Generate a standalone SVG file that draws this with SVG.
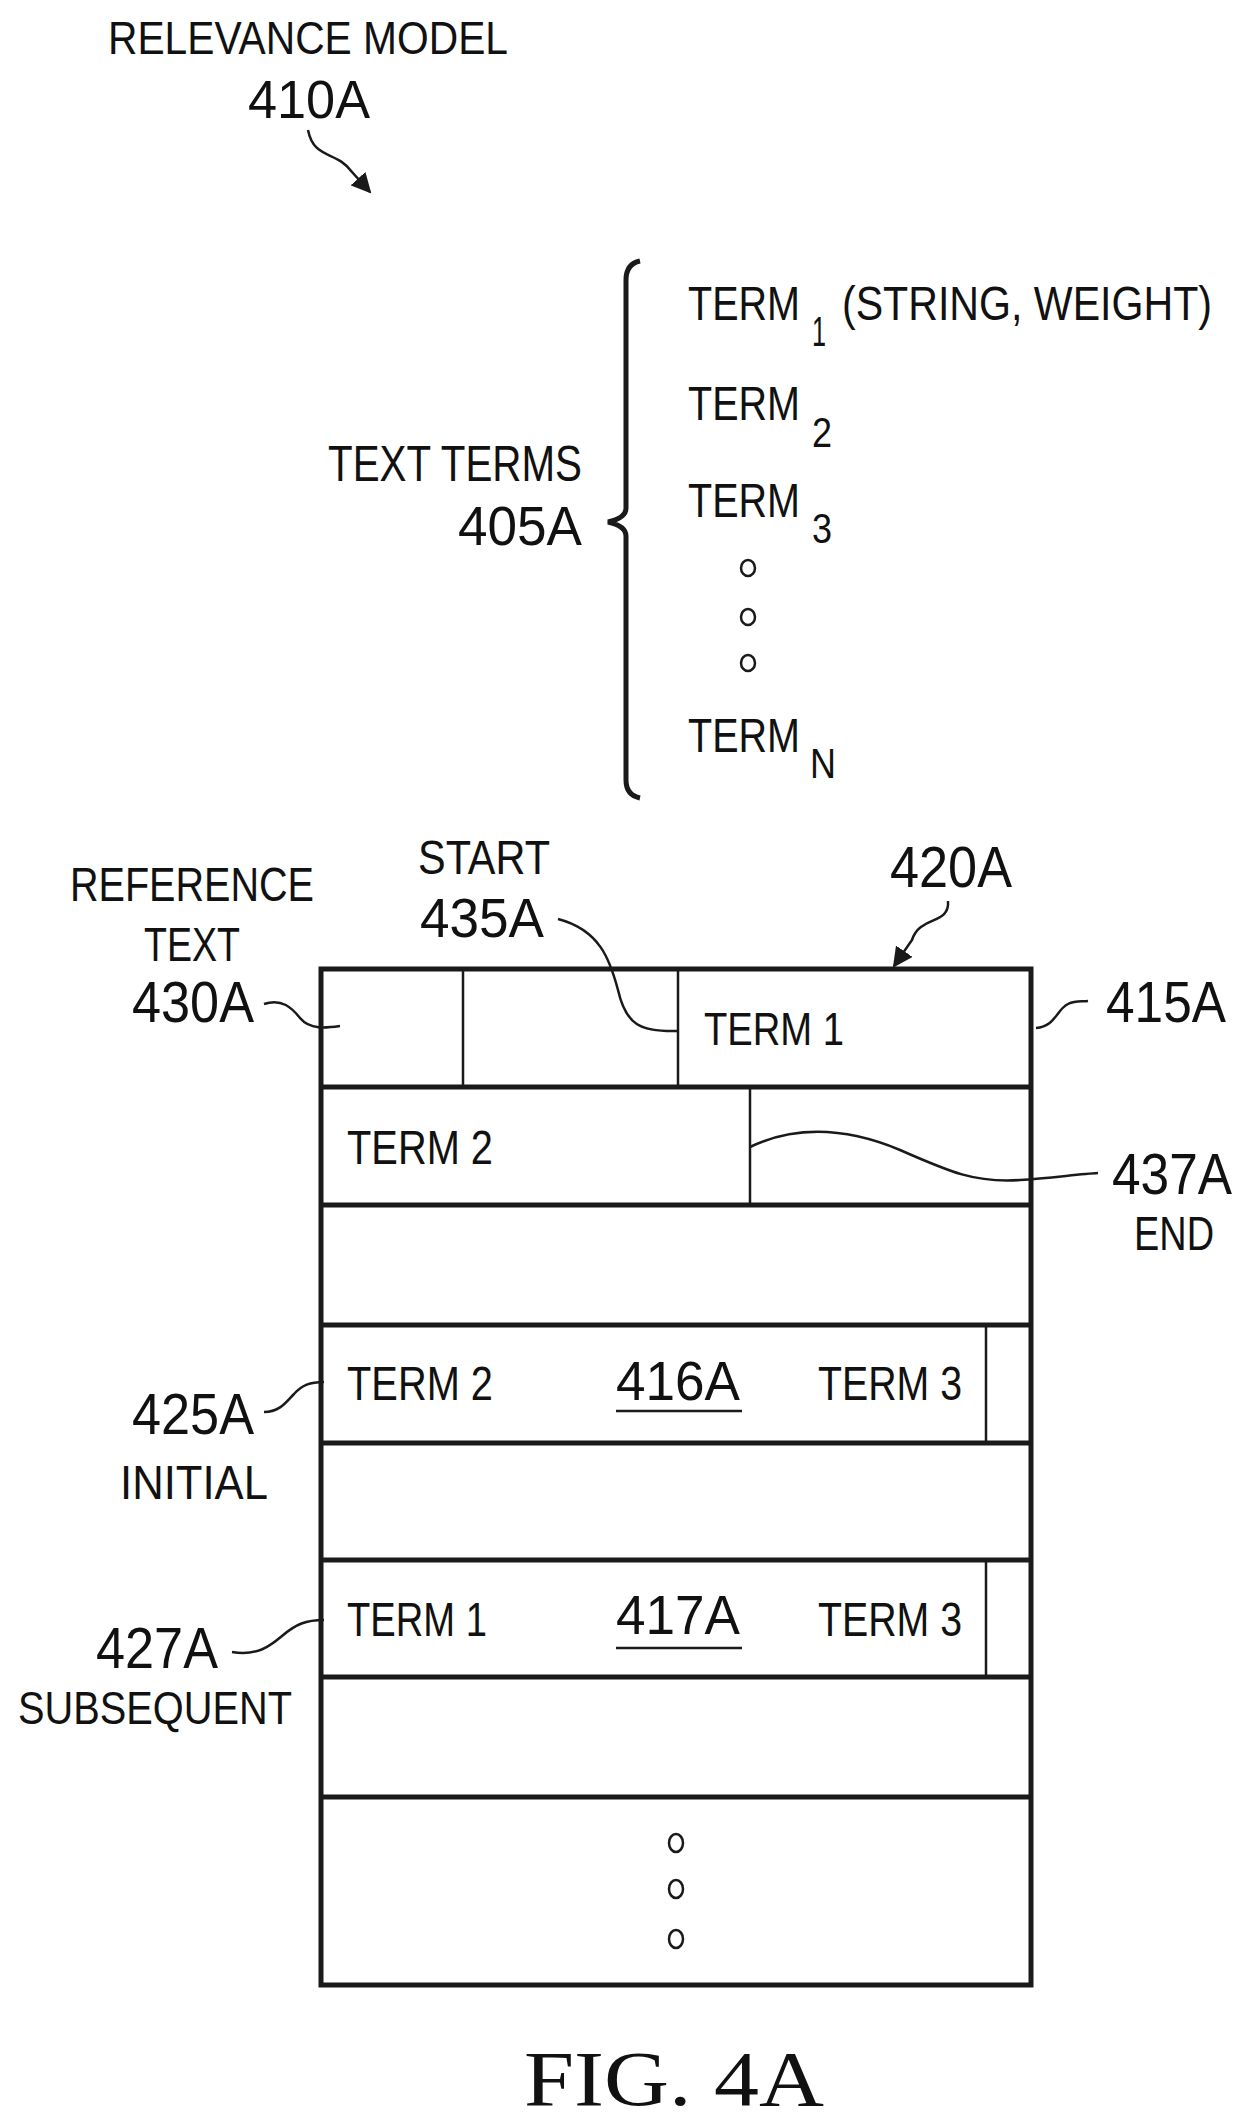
<svg xmlns="http://www.w3.org/2000/svg" width="1251" height="2124" viewBox="0 0 1251 2124">
<style>
text{font-family:"Liberation Sans",Arial,sans-serif;fill:#111}
.fig{font-family:"Liberation Serif","Times New Roman",serif}
.ln{fill:none;stroke:#1a1a1a;stroke-width:5}
.th{fill:none;stroke:#1a1a1a;stroke-width:2.5}
.dot{fill:none;stroke:#1a1a1a;stroke-width:2.5}
</style>
<defs>
<marker id="ah" viewBox="0 0 10 10" refX="9" refY="5" markerWidth="8" markerHeight="8" orient="auto"><path d="M0,0 L10,5 L0,10 z" fill="#1a1a1a"/></marker>
</defs>
<rect width="1251" height="2124" fill="#fff"/>

<g id="relevance-model">
<text x="108" y="54" font-size="46" textLength="400" lengthAdjust="spacingAndGlyphs">RELEVANCE MODEL</text>
<text x="248" y="118" font-size="54" textLength="122" lengthAdjust="spacingAndGlyphs">410A</text>
</g>

<g id="text-terms">
<text x="328" y="481" font-size="50" textLength="254" lengthAdjust="spacingAndGlyphs">TEXT TERMS</text>
<text x="458" y="545" font-size="56" textLength="124" lengthAdjust="spacingAndGlyphs">405A</text>
<path class="ln" d="M640,261 Q626,264 626,280 L626,508 Q626,518 608,522 Q626,526 626,536 L626,780 Q626,795 640,798"/>
<text x="688" y="320" font-size="48" textLength="112" lengthAdjust="spacingAndGlyphs">TERM</text>
<text x="812" y="346" font-size="42" textLength="14" lengthAdjust="spacingAndGlyphs">1</text>
<text x="842" y="320" font-size="48" textLength="370" lengthAdjust="spacingAndGlyphs">(STRING, WEIGHT)</text>
<text x="688" y="420" font-size="48" textLength="112" lengthAdjust="spacingAndGlyphs">TERM</text>
<text x="812" y="447" font-size="42" textLength="20" lengthAdjust="spacingAndGlyphs">2</text>
<text x="688" y="517" font-size="48" textLength="112" lengthAdjust="spacingAndGlyphs">TERM</text>
<text x="812" y="543" font-size="42" textLength="20" lengthAdjust="spacingAndGlyphs">3</text>
<ellipse class="dot" cx="748" cy="568" rx="7" ry="8"/>
<ellipse class="dot" cx="748" cy="617" rx="7" ry="8"/>
<ellipse class="dot" cx="748" cy="663" rx="7" ry="8"/>
<text x="688" y="752" font-size="48" textLength="112" lengthAdjust="spacingAndGlyphs">TERM</text>
<text x="810" y="778" font-size="42" textLength="26" lengthAdjust="spacingAndGlyphs">N</text>
</g>

<g id="table-415A">
<rect class="ln" x="321" y="969" width="710" height="1016"/>
<line class="ln" x1="321" y1="1087" x2="1031" y2="1087"/>
<line class="ln" x1="321" y1="1205" x2="1031" y2="1205"/>
<line class="ln" x1="321" y1="1325" x2="1031" y2="1325"/>
<line class="ln" x1="321" y1="1443" x2="1031" y2="1443"/>
<line class="ln" x1="321" y1="1560" x2="1031" y2="1560"/>
<line class="ln" x1="321" y1="1677" x2="1031" y2="1677"/>
<line class="ln" x1="321" y1="1797" x2="1031" y2="1797"/>
<line class="th" x1="463" y1="969" x2="463" y2="1087"/>
<line class="th" x1="678" y1="969" x2="678" y2="1087"/>
<line class="th" x1="750" y1="1087" x2="750" y2="1205"/>
<line class="th" x1="986" y1="1325" x2="986" y2="1443"/>
<line class="th" x1="986" y1="1560" x2="986" y2="1677"/>
<text x="704" y="1045" font-size="46" textLength="140" lengthAdjust="spacingAndGlyphs">TERM 1</text>
<text x="347" y="1164" font-size="48" textLength="146" lengthAdjust="spacingAndGlyphs">TERM 2</text>
<text x="347" y="1400" font-size="48" textLength="146" lengthAdjust="spacingAndGlyphs">TERM 2</text>
<text x="616" y="1400" font-size="56" textLength="124" lengthAdjust="spacingAndGlyphs">416A</text>
<line class="th" x1="616" y1="1411" x2="742" y2="1411"/>
<text x="818" y="1400" font-size="48" textLength="144" lengthAdjust="spacingAndGlyphs">TERM 3</text>
<text x="347" y="1636" font-size="48" textLength="140" lengthAdjust="spacingAndGlyphs">TERM 1</text>
<text x="616" y="1634" font-size="56" textLength="124" lengthAdjust="spacingAndGlyphs">417A</text>
<line class="th" x1="616" y1="1648" x2="742" y2="1648"/>
<text x="818" y="1636" font-size="48" textLength="144" lengthAdjust="spacingAndGlyphs">TERM 3</text>
<ellipse class="dot" cx="676" cy="1843" rx="7" ry="9"/>
<ellipse class="dot" cx="676" cy="1889" rx="7" ry="9"/>
<ellipse class="dot" cx="676" cy="1939" rx="7" ry="9"/>
</g>

<g id="labels">
<text x="70" y="901" font-size="48" textLength="244" lengthAdjust="spacingAndGlyphs">REFERENCE</text>
<text x="144" y="961" font-size="48" textLength="96" lengthAdjust="spacingAndGlyphs">TEXT</text>
<text x="132" y="1022" font-size="58" textLength="122" lengthAdjust="spacingAndGlyphs">430A</text>
<text x="418" y="874" font-size="48" textLength="132" lengthAdjust="spacingAndGlyphs">START</text>
<text x="420" y="937" font-size="56" textLength="124" lengthAdjust="spacingAndGlyphs">435A</text>
<text x="890" y="887" font-size="58" textLength="122" lengthAdjust="spacingAndGlyphs">420A</text>
<text x="1106" y="1022" font-size="58" textLength="120" lengthAdjust="spacingAndGlyphs">415A</text>
<text x="1112" y="1194" font-size="58" textLength="120" lengthAdjust="spacingAndGlyphs">437A</text>
<text x="1134" y="1250" font-size="48" textLength="80" lengthAdjust="spacingAndGlyphs">END</text>
<text x="132" y="1434" font-size="58" textLength="122" lengthAdjust="spacingAndGlyphs">425A</text>
<text x="120" y="1499" font-size="48" textLength="148" lengthAdjust="spacingAndGlyphs">INITIAL</text>
<text x="96" y="1668" font-size="58" textLength="122" lengthAdjust="spacingAndGlyphs">427A</text>
<text x="18" y="1724" font-size="46" textLength="274" lengthAdjust="spacingAndGlyphs">SUBSEQUENT</text>
<text class="fig" x="524" y="2105" font-size="78" textLength="300" lengthAdjust="spacingAndGlyphs">FIG. 4A</text>
</g>

<g id="connectors">
<path class="th" d="M308,130 C314,160 336,150 352,172 L370,192" marker-end="url(#ah)"/>
<path class="th" d="M948,901 C950,925 920,915 912,940 L894,966" marker-end="url(#ah)"/>
<path class="th" d="M264,1004 C282,998 292,1008 300,1018 C310,1030 326,1028 340,1026"/>
<path class="th" d="M1036,1028 C1056,1026 1056,1010 1068,1004 C1076,1000 1082,1002 1088,1001"/>
<path class="th" d="M558,919 C600,930 610,960 618,990 C626,1025 640,1032 678,1031"/>
<path class="th" d="M750,1147 C790,1128 840,1125 900,1150 C950,1172 975,1183 1020,1180 C1050,1178 1080,1174 1098,1173"/>
<path class="th" d="M264,1412 C280,1412 286,1402 294,1394 C302,1385 310,1382 324,1382"/>
<path class="th" d="M232,1652 C258,1656 270,1646 282,1636 C296,1624 306,1620 324,1620"/>
</g>
</svg>
